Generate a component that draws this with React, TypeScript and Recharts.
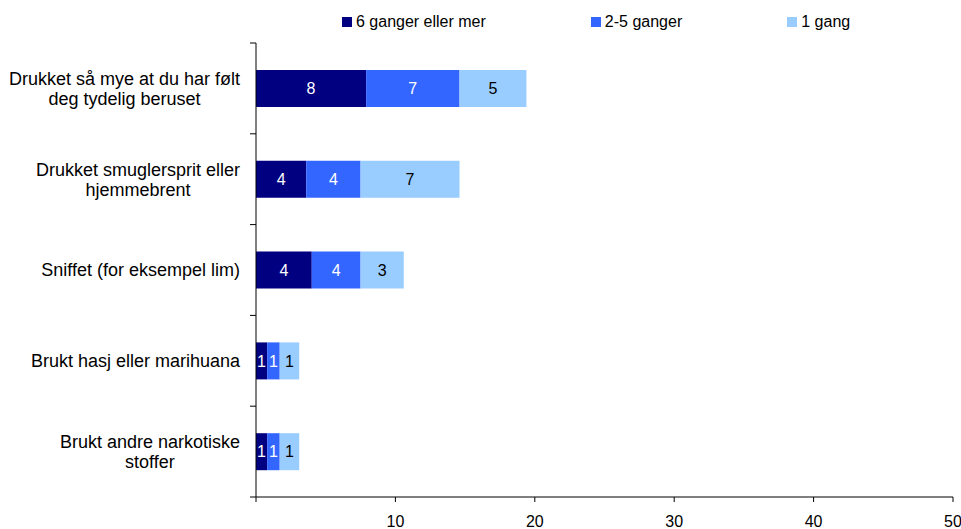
import { BarChart, Bar, XAxis, YAxis, LabelList } from "recharts";

// survey rows, line breaks mark where the axis label wraps
const categories = [
  "Drukket så mye at du har følt\ndeg tydelig beruset",
  "Drukket smuglersprit eller\nhjemmebrent",
  "Sniffet (for eksempel lim)",
  "Brukt hasj eller marihuana",
  "Brukt andre narkotiske\nstoffer",
];

const sixOrMore = [7.9, 3.6, 4.0, 0.8, 0.8];
const twoToFive = [6.7, 3.9, 3.5, 0.9, 0.9];
const once = [4.8, 7.1, 3.1, 1.4, 1.4];

const xTicks = [0, 10, 20, 30, 40, 50];

const series = [
  { key: "six", name: "6 ganger eller mer", color: "#000080", text: "#ffffff" },
  { key: "two", name: "2-5 ganger", color: "#3366ff", text: "#ffffff" },
  { key: "one", name: "1 gang", color: "#99ccff", text: "#000000" },
];

const data = categories.map((name, i) => ({
  name,
  six: sixOrMore[i],
  two: twoToFive[i],
  one: once[i],
}));

const FONT = "'Liberation Sans', Arial, sans-serif";
const W = 961;
const H = 529;
const MARGIN = { top: 43, right: 8, bottom: 0, left: 0 };
const X_AXIS_H = 32;
const Y_AXIS_W = 256;
const Y_TICK = 6;
const Y_TICK_GAP = 10;
const LABEL_SIZE = 18;
const LINE_H = 20;
const BAND = (H - MARGIN.top - MARGIN.bottom - X_AXIS_H) / categories.length;

let ctx: CanvasRenderingContext2D | null = null;
function measure(s: string) {
  if (!ctx) ctx = document.createElement("canvas").getContext("2d");
  if (!ctx) return s.length * LABEL_SIZE * 0.5;
  ctx.font = `${LABEL_SIZE}px ${FONT}`;
  return ctx.measureText(s).width;
}

// category label: centred block, right edge against the tick gap,
// plus Excel-style tick marks on the band boundaries
function CategoryTick(props: any) {
  const { x, y, payload, index } = props;
  const lines = String(payload.value).split("\n");
  const blockW = Math.max(...lines.map(measure));
  const cx = x - blockW / 2;
  const axisX = x + Y_TICK + Y_TICK_GAP;
  const half = BAND / 2;
  return (
    <g>
      <line x1={axisX - Y_TICK} x2={axisX} y1={y - half} y2={y - half} stroke="#000" />
      {index === categories.length - 1 ? (
        <line x1={axisX - Y_TICK} x2={axisX} y1={y + half} y2={y + half} stroke="#000" />
      ) : null}
      <text textAnchor="middle" fontSize={LABEL_SIZE} fontFamily={FONT} fill="#000">
        {lines.map((l, i) => (
          <tspan key={i} x={cx} y={y + (i - (lines.length - 1) / 2) * LINE_H} dy="0.35em">
            {l}
          </tspan>
        ))}
      </text>
    </g>
  );
}

function Legend() {
  return (
    <div
      style={{
        position: "absolute",
        top: 12,
        left: 342,
        display: "flex",
        gap: 105,
        fontFamily: FONT,
        fontSize: 16,
        lineHeight: "20px",
        color: "#000",
      }}
    >
      {series.map((s) => (
        <span key={s.key} style={{ display: "flex", alignItems: "center", gap: 4 }}>
          <span style={{ width: 10, height: 10, background: s.color, display: "inline-block" }} />
          {s.name}
        </span>
      ))}
    </div>
  );
}

export default function App() {
  return (
    <div style={{ position: "relative", width: W, height: H, background: "#fff" }}>
      <style>{`body{margin:0}`}</style>
      <Legend />
      <BarChart
        width={W}
        height={H}
        data={data}
        layout="vertical"
        margin={MARGIN}
        barSize={37}
        style={{ fontFamily: FONT }}
      >
        <XAxis
          type="number"
          domain={[0, 50]}
          ticks={xTicks}
          height={X_AXIS_H}
          tickSize={5}
          tickMargin={14}
          tickFormatter={(v: number) => (v === 0 ? "" : String(v))}
          axisLine={{ stroke: "#000" }}
          tickLine={{ stroke: "#000" }}
          tick={{ fill: "#000", fontSize: 16, fontFamily: FONT }}
        />
        <YAxis
          type="category"
          dataKey="name"
          width={Y_AXIS_W}
          interval={0}
          tickSize={Y_TICK}
          tickMargin={Y_TICK_GAP}
          tickLine={false}
          axisLine={{ stroke: "#000" }}
          tick={<CategoryTick />}
        />
        {series.map((s) => (
          <Bar key={s.key} dataKey={s.key} name={s.name} stackId="a" fill={s.color} isAnimationActive={false}>
            <LabelList
              dataKey={s.key}
              position="center"
              fill={s.text}
              fontSize={16}
              fontFamily={FONT}
              formatter={(v: any) => Math.round(Number(v))}
            />
          </Bar>
        ))}
      </BarChart>
    </div>
  );
}
